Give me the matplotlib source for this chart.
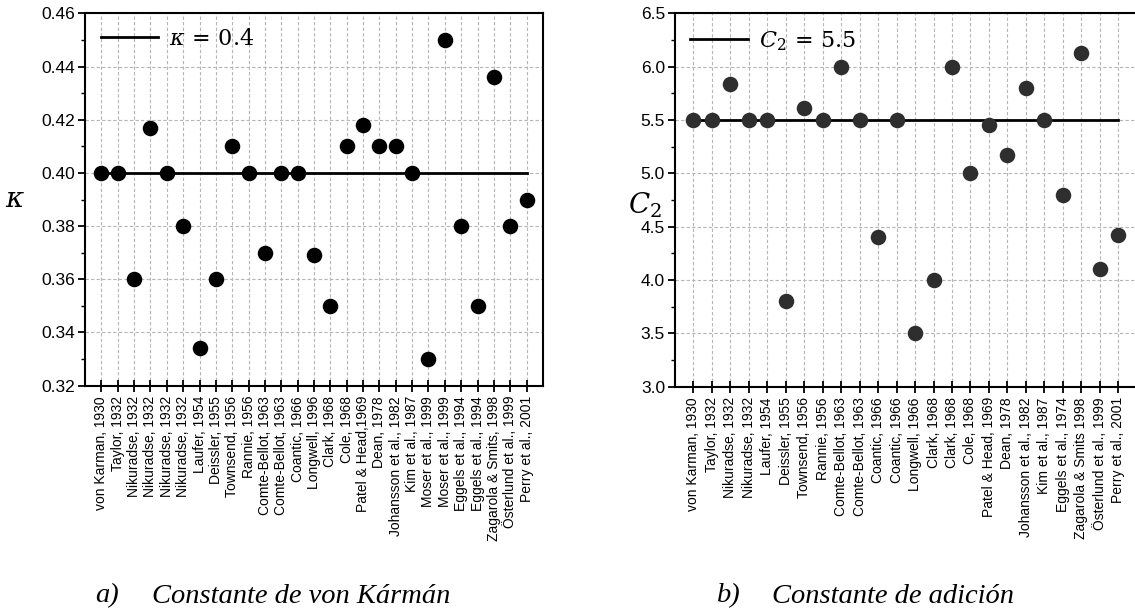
import matplotlib.pyplot as plt
from matplotlib.ticker import MultipleLocator, FormatStrFormatter

# data: kappa (von Karman constant)
kappa_labels = ['von Karman, 1930', 'Taylor, 1932', 'Nikuradse, 1932', 'Nikuradse, 1932',
                'Nikuradse, 1932', 'Nikuradse, 1932', 'Laufer, 1954', 'Deissler, 1955',
                'Townsend, 1956', 'Rannie, 1956', 'Comte-Bellot, 1963', 'Comte-Bellot, 1963',
                'Coantic, 1966', 'Longwell, 1996', 'Clark, 1968', 'Cole, 1968',
                'Patel & Head,1969', 'Dean, 1978', 'Johansson et al., 1982', 'Kim et al., 1987',
                'Moser et al., 1999', 'Moser et al., 1999', 'Eggels et al., 1994',
                'Eggels et al., 1994', 'Zagarola & Smits, 1998', 'Österlund et al., 1999',
                'Perry et al., 2001']
kappa_values = [0.40, 0.40, 0.36, 0.417, 0.40, 0.38, 0.334, 0.36, 0.41, 0.40, 0.37, 0.40,
                0.40, 0.369, 0.35, 0.41, 0.418, 0.41, 0.41, 0.40, 0.33, 0.45, 0.38, 0.35,
                0.436, 0.38, 0.39]
kappa_ref = 0.4

# data: C2 (additive constant)
c2_labels = ['von Karman, 1930', 'Taylor, 1932', 'Nikuradse, 1932', 'Nikuradse, 1932',
             'Laufer, 1954', 'Deissler, 1955', 'Townsend, 1956', 'Rannie, 1956',
             'Comte-Bellot, 1963', 'Comte-Bellot, 1963', 'Coantic, 1966', 'Coantic, 1966',
             'Longwell, 1966', 'Clark, 1968', 'Clark, 1968', 'Cole, 1968',
             'Patel & Head, 1969', 'Dean, 1978', 'Johansson et al., 1982', 'Kim et al., 1987',
             'Eggels et al., 1974', 'Zagarola & Smits 1998', 'Österlund et al., 1999',
             'Perry et al., 2001']
c2_values = [5.5, 5.5, 5.84, 5.5, 5.5, 3.8, 5.61, 5.5, 6.0, 5.5, 4.4, 5.5,
             3.5, 4.0, 6.0, 5.0, 5.45, 5.17, 5.8, 5.5, 4.8, 6.13, 4.1, 4.42]
c2_ref = 5.5

plt.rcParams['font.family'] = 'Liberation Sans'
plt.rcParams['mathtext.fontset'] = 'dejavuserif'

fig = plt.figure(figsize=(11.35, 6.13), dpi=100)


def panel(ax, labels, values, ref, ylim, major, minor, fmt, color, leg):
	x = list(range(1, len(labels) + 1))
	ax.set_axisbelow(True)
	ax.grid(True, which='major', color='#b5b5b5', linestyle=(0, (3, 2)), linewidth=0.8)
	ax.plot([x[0], x[-1]], [ref, ref], color='black', linewidth=2, label=leg, zorder=2)
	ax.scatter(x, values, s=125, color=color, zorder=3, linewidths=0)
	ax.set_xlim(0, len(labels) + 1)
	ax.set_ylim(*ylim)
	ax.set_xticks(x)
	ax.set_xticklabels(labels, rotation=90, fontsize=10)
	ax.yaxis.set_major_locator(MultipleLocator(major))
	ax.yaxis.set_minor_locator(MultipleLocator(minor))
	ax.yaxis.set_major_formatter(FormatStrFormatter(fmt))
	ax.tick_params(axis='x', direction='inout', length=9, width=1.3, pad=3)
	ax.tick_params(axis='y', which='major', direction='out', length=5, width=1.3,
	               labelsize=12.5, pad=2)
	ax.tick_params(axis='y', which='minor', direction='out', length=3, width=1.0)
	for s in ax.spines.values():
		s.set_linewidth(1.5)
	ax.legend(loc='upper left', frameon=False, fontsize=16, handlelength=2.6,
	          borderaxespad=0.3, handletextpad=0.5)


ax1 = fig.add_axes([0.0749, 0.371, 0.4035, 0.607])
panel(ax1, kappa_labels, kappa_values, kappa_ref, (0.32, 0.46), 0.02, 0.01, '%.2f',
      'black', r'$\kappa\,=\,0.4$')

ax2 = fig.add_axes([0.5945, 0.369, 0.4071, 0.609])
panel(ax2, c2_labels, c2_values, c2_ref, (3.0, 6.5), 0.5, 0.25, '%.1f',
      '#2e2e2e', r'$C_2\,=\,5.5$')

fig.text(0.013, 0.673, r'$\kappa$', fontsize=20, ha='center', va='center')
fig.text(0.568, 0.665, r'$C_2$', fontsize=20, ha='center', va='center')

# captions
cap = dict(family='Liberation Serif', style='italic', fontsize=20.5, va='baseline')
fig.text(0.0837, 0.017, 'a)', **cap)
fig.text(0.134, 0.017, 'Constante de von Kármán', **cap)
fig.text(0.632, 0.017, 'b)', **cap)
fig.text(0.680, 0.017, 'Constante de adición', **cap)

plt.savefig('out.png', dpi=100)
